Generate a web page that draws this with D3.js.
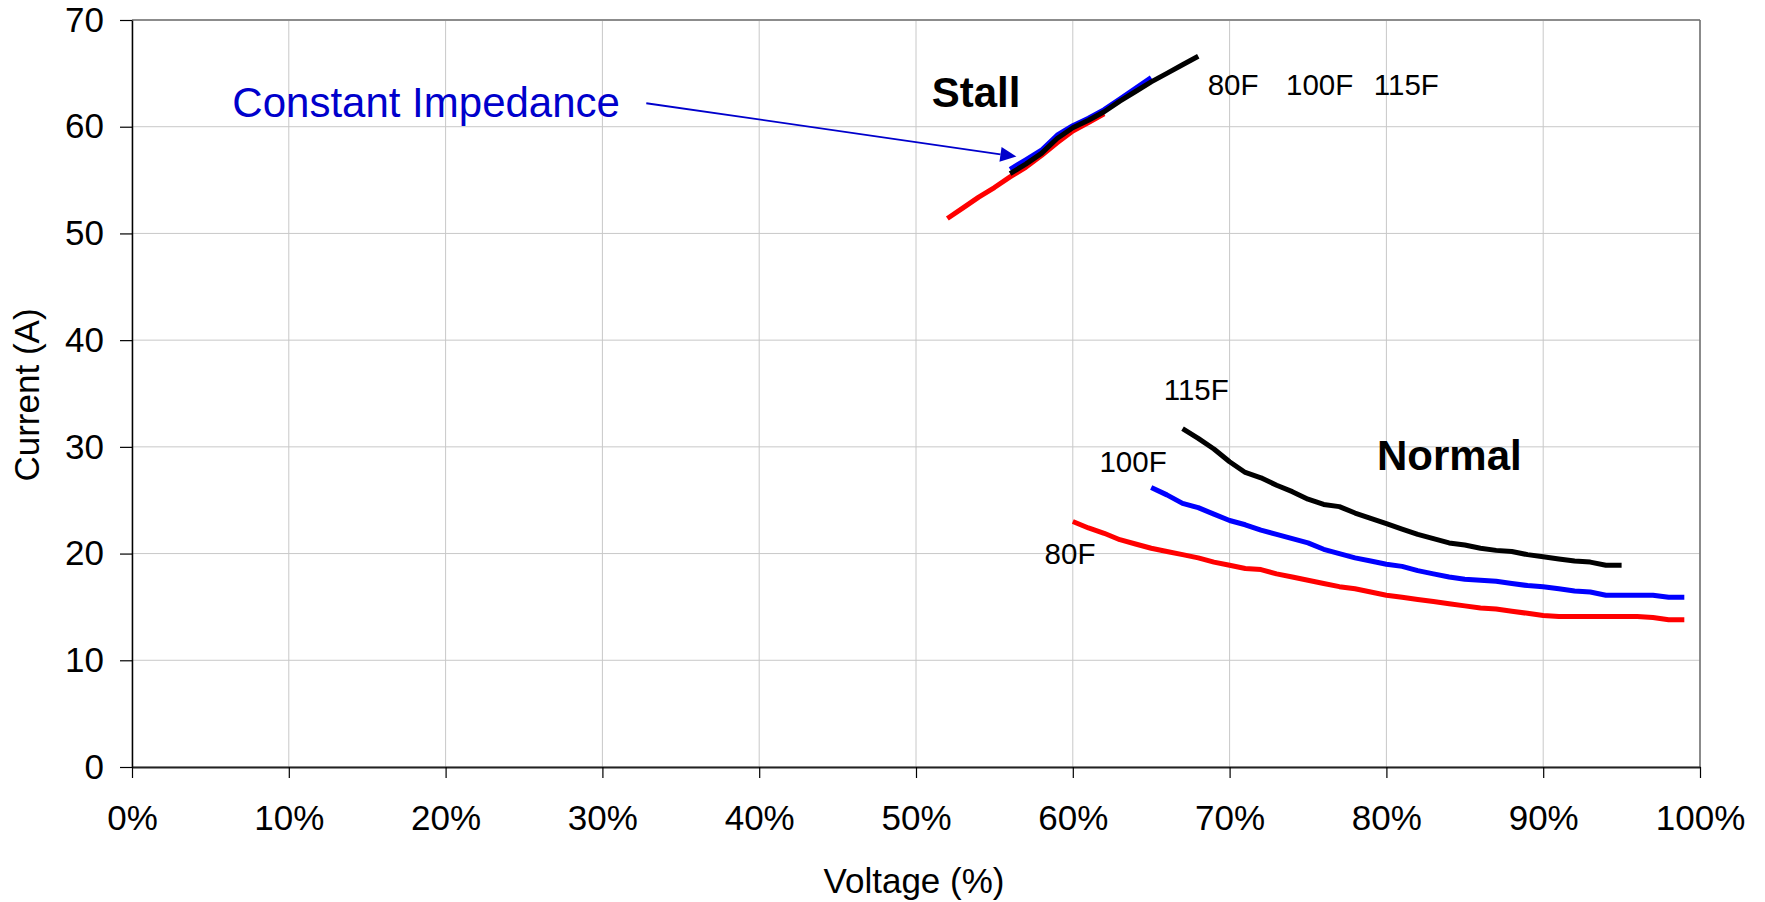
<!DOCTYPE html>
<html>
<head>
<meta charset="utf-8">
<script src="https://cdn.jsdelivr.net/npm/d3@7"></script>
<style>
  html, body { margin: 0; padding: 0; background: #fff; }
  svg { display: block; font-family: "Liberation Sans", Arial, sans-serif; }
</style>
</head>
<body>
<svg id="chart" width="1765" height="902"></svg>
<script>
// ---- Data ----
const xTicks = [0, 10, 20, 30, 40, 50, 60, 70, 80, 90, 100];
const xTickLabels = ["0%", "10%", "20%", "30%", "40%", "50%", "60%", "70%", "80%", "90%", "100%"];
const yTicks = [0, 10, 20, 30, 40, 50, 60, 70];

// Stall region
const stall80V = [52, 53, 54, 55, 56, 57, 58, 59, 60, 61, 62];
const stall80I = [51.4, 52.4, 53.4, 54.3, 55.3, 56.2, 57.3, 58.5, 59.6, 60.4, 61.2];
const stall100V = [56, 57, 58, 59, 60, 61, 62, 63, 64, 65];
const stall100I = [56.0, 56.9, 57.8, 59.2, 60.1, 60.8, 61.6, 62.6, 63.6, 64.6];
const stall115V = [56, 57, 58, 59, 60, 61, 62, 63, 64, 65, 66, 67, 68];
const stall115I = [55.6, 56.5, 57.5, 58.9, 59.9, 60.6, 61.4, 62.4, 63.3, 64.2, 65.0, 65.8, 66.6];

// Normal region
const normal80V = [60, 61, 62, 63, 64, 65, 66, 67, 68, 69, 70, 71, 72, 73, 74, 75, 76, 77, 78, 79,
                   80, 81, 82, 83, 84, 85, 86, 87, 88, 89, 90, 91, 92, 93, 94, 95, 96, 97, 98, 99];
const normal80I = [23.0, 22.4, 21.9, 21.3, 20.9, 20.5, 20.2, 19.9, 19.6, 19.2, 18.9, 18.6, 18.5, 18.1, 17.8,
                   17.5, 17.2, 16.9, 16.7, 16.4, 16.1, 15.9, 15.7, 15.5, 15.3, 15.1, 14.9, 14.8, 14.6, 14.4,
                   14.2, 14.1, 14.1, 14.1, 14.1, 14.1, 14.1, 14.0, 13.8, 13.8];
const normal100V = [65, 66, 67, 68, 69, 70, 71, 72, 73, 74, 75, 76, 77, 78, 79, 80, 81, 82,
                    83, 84, 85, 86, 87, 88, 89, 90, 91, 92, 93, 94, 95, 96, 97, 98, 99];
const normal100I = [26.2, 25.5, 24.7, 24.3, 23.7, 23.1, 22.7, 22.2, 21.8, 21.4, 21.0, 20.4, 20.0, 19.6,
                    19.3, 19.0, 18.8, 18.4, 18.1, 17.8, 17.6, 17.5, 17.4, 17.2, 17.0, 16.9, 16.7, 16.5,
                    16.4, 16.1, 16.1, 16.1, 16.1, 15.9, 15.9];
const normal115V = [67, 68, 69, 70, 71, 72, 73, 74, 75, 76, 77, 78, 79, 80, 81,
                    82, 83, 84, 85, 86, 87, 88, 89, 90, 91, 92, 93, 94, 95];
const normal115I = [31.7, 30.8, 29.8, 28.6, 27.6, 27.1, 26.4, 25.8, 25.1, 24.6, 24.4, 23.8, 23.3, 22.8, 22.3,
                    21.8, 21.4, 21.0, 20.8, 20.5, 20.3, 20.2, 19.9, 19.7, 19.5, 19.3, 19.2, 18.9, 18.9];

const seriesNames = ["80F", "100F", "115F"];
const seriesColors = ["#ff0000", "#0000ff", "#000000"];

// ---- Layout ----
const svg = d3.select("#chart");
const plotL = 132, plotR = 1700, plotT = 20, plotB = 767;

const x = d3.scaleLinear().domain([0, 100]).range([plotL, plotR]);
const y = d3.scaleLinear().domain([0, 70]).range([plotB, plotT]);

svg.append("rect").attr("width", 1765).attr("height", 902).attr("fill", "#fff");

// Gridlines
const grid = svg.append("g");
grid.selectAll("line.v").data(xTicks).enter().append("line")
  .attr("x1", d => x(d)).attr("x2", d => x(d))
  .attr("y1", plotT).attr("y2", plotB)
  .attr("stroke", "#c8c8c8").attr("stroke-width", 1);
grid.selectAll("line.h").data(yTicks).enter().append("line")
  .attr("x1", plotL).attr("x2", plotR)
  .attr("y1", d => y(d)).attr("y2", d => y(d))
  .attr("stroke", "#c8c8c8").attr("stroke-width", 1);

// Plot frame (top & right)
svg.append("line").attr("x1", plotL).attr("x2", plotR).attr("y1", plotT).attr("y2", plotT)
  .attr("stroke", "#8c8c8c").attr("stroke-width", 2);
svg.append("line").attr("x1", plotR).attr("x2", plotR).attr("y1", plotT).attr("y2", plotB)
  .attr("stroke", "#6e6e6e").attr("stroke-width", 1.5);

// Axes
const xAxis = d3.axisBottom(x).tickValues(xTicks).tickFormat((d, i) => xTickLabels[i])
  .tickSize(11).tickPadding(27).tickSizeOuter(0);
const gx = svg.append("g").attr("transform", `translate(0,${plotB})`).call(xAxis);
gx.select(".domain").attr("stroke", "#222").attr("stroke-width", 2);
gx.selectAll(".tick line").attr("stroke", "#000").attr("stroke-width", 1.2);
gx.selectAll(".tick text").attr("font-size", 35).attr("fill", "#000")
  .attr("font-family", "Liberation Sans, Arial, sans-serif");

const yAxis = d3.axisLeft(y).tickValues(yTicks).tickFormat(d3.format("d"))
  .tickSize(12).tickPadding(16).tickSizeOuter(0);
const gy = svg.append("g").attr("transform", `translate(${plotL},0)`).call(yAxis);
gy.select(".domain").attr("stroke", "#000").attr("stroke-width", 1.5);
gy.selectAll(".tick line").attr("stroke", "#000").attr("stroke-width", 1.2);
gy.selectAll(".tick text").attr("font-size", 35).attr("fill", "#000")
  .attr("font-family", "Liberation Sans, Arial, sans-serif");

// Axis titles
svg.append("text").attr("x", (plotL + plotR) / 2 - 2).attr("y", 893)
  .attr("text-anchor", "middle").attr("font-size", 35).attr("fill", "#000")
  .text("Voltage (%)");
svg.append("text").attr("transform", "translate(39,395) rotate(-90)")
  .attr("text-anchor", "middle").attr("font-size", 35).attr("fill", "#000")
  .text("Current (A)");

// Lines
const line = d3.line().x(d => x(d[0])).y(d => y(d[1]));
const curves = [
  { v: stall80V, i: stall80I, c: 0 },
  { v: normal80V, i: normal80I, c: 0 },
  { v: stall100V, i: stall100I, c: 1 },
  { v: normal100V, i: normal100I, c: 1 },
  { v: stall115V, i: stall115I, c: 2 },
  { v: normal115V, i: normal115I, c: 2 },
];
svg.append("g").selectAll("path").data(curves).enter().append("path")
  .attr("d", d => line(d.v.map((v, k) => [v, d.i[k]])))
  .attr("fill", "none")
  .attr("stroke", d => seriesColors[d.c])
  .attr("stroke-width", 5)
  .attr("stroke-linejoin", "round");

// Annotations (positioned in data space)
const ann = svg.append("g");
ann.append("text").attr("x", x(51.0)).attr("y", y(61.86))
  .attr("font-size", 42).attr("font-weight", "bold").attr("fill", "#000").text("Stall");
ann.append("text").attr("x", x(79.4)).attr("y", y(27.83))
  .attr("font-size", 42).attr("font-weight", "bold").attr("fill", "#000").text("Normal");

// Top series labels for the stall curves
const topLabelV = [68.6, 73.6, 79.2];
ann.selectAll("text.top").data(seriesNames).enter().append("text")
  .attr("x", (d, k) => x(topLabelV[k])).attr("y", y(63.0))
  .attr("font-size", 29.5).attr("fill", "#000").text(d => d);

// Curve labels for the normal curves
const curveLabelV = [58.2, 61.7, 65.8];
const curveLabelI = [19.0, 27.6, 34.4];
ann.selectAll("text.cl").data(seriesNames).enter().append("text")
  .attr("x", (d, k) => x(curveLabelV[k])).attr("y", (d, k) => y(curveLabelI[k]))
  .attr("font-size", 29.5).attr("fill", "#000").text(d => d);

// Constant impedance label + arrow
const ciColor = "#0000cc";
ann.append("text").attr("x", x(6.4)).attr("y", y(60.9))
  .attr("font-size", 42).attr("fill", ciColor).text("Constant Impedance");

const a0 = [x(32.8), y(62.2)], a1 = [x(56.4), y(57.2)];
const ang = Math.atan2(a1[1] - a0[1], a1[0] - a0[0]);
const hl = 16, hw = 7.5;
const base = [a1[0] - hl * Math.cos(ang), a1[1] - hl * Math.sin(ang)];
ann.append("line").attr("x1", a0[0]).attr("y1", a0[1]).attr("x2", base[0]).attr("y2", base[1])
  .attr("stroke", ciColor).attr("stroke-width", 1.8);
ann.append("polygon")
  .attr("points", [
    a1,
    [base[0] + hw * Math.sin(ang), base[1] - hw * Math.cos(ang)],
    [base[0] - hw * Math.sin(ang), base[1] + hw * Math.cos(ang)]
  ].map(p => p.join(",")).join(" "))
  .attr("fill", ciColor);
</script>
</body>
</html>
